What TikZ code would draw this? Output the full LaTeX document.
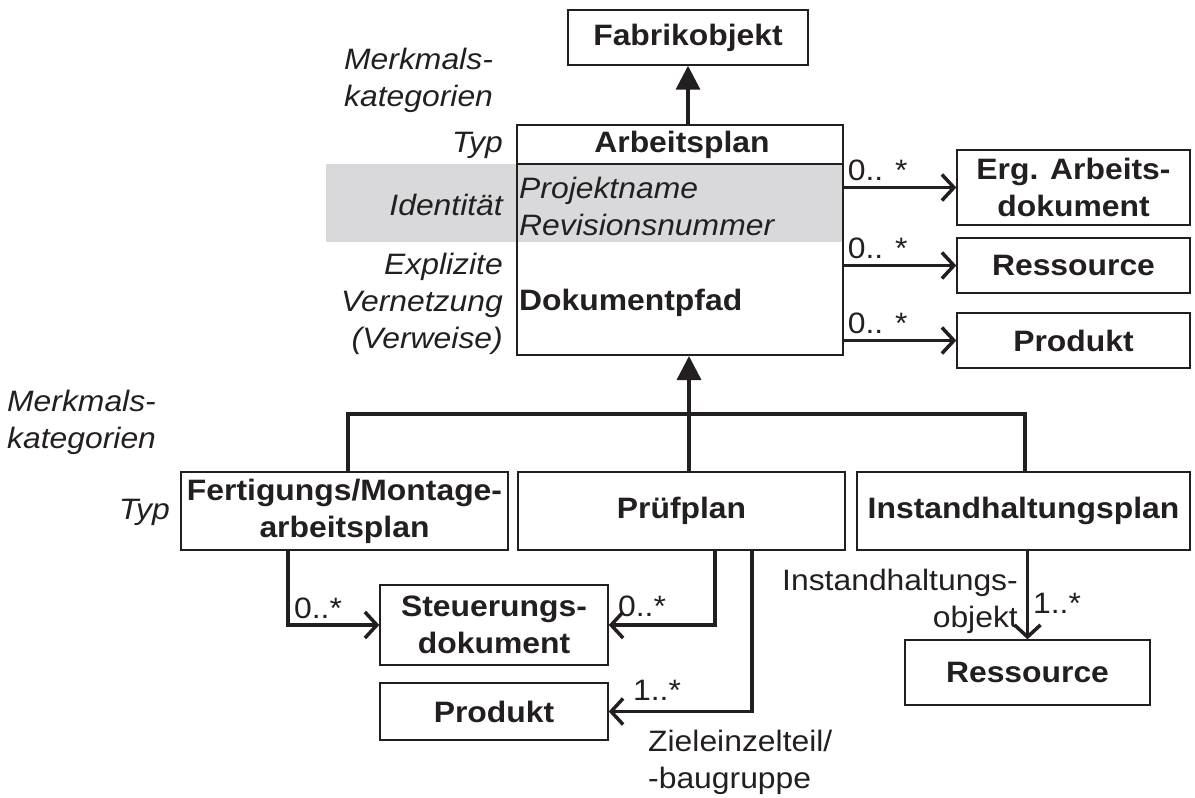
\documentclass[tikz,border=0pt]{standalone}
\usepackage{fontspec}
\setmainfont{Liberation Sans}[FakeStretch=1.08]
\usetikzlibrary{arrows.meta}
\definecolor{ink}{HTML}{231F20}
\definecolor{band}{HTML}{D9D9DB}
\begin{document}
\begin{tikzpicture}[x=1pt,y=-1pt,
  every node/.style={font=\fontsize{29.5}{37}\selectfont, text=ink, inner sep=0pt, align=center},
  box/.style={draw=ink, line width=2pt, fill=white},
  slim box/.style={draw=ink, line width=1.4pt, fill=white},
  cat/.style={font=\fontsize{29.5}{37}\selectfont\itshape},
  link/.style={draw=ink, line width=3.5pt},
  assoc/.style={link, -{Straight Barb[length=12pt,width=26pt]}},
  inherit/.style={link, -{Triangle[length=24pt,width=24pt]}},
]
\useasboundingbox (0,0) rectangle (1195,798);

% identity band behind the class box
\fill[band] (326,164) rectangle (843,242);

% base class
\node[slim box, minimum width=240pt, minimum height=55pt] (fabrik) at (688,37.5) {\bfseries Fabrikobjekt};

% Arbeitsplan class box with its compartments
\node[draw=ink, line width=2pt, minimum width=326pt, minimum height=230pt] (ap) at (680,240) {};
\draw[ink, line width=2pt] (ap.west |- 0,164) -- (ap.east |- 0,164);
\node (aptitle) at (682,145) {\bfseries Arbeitsplan};
\node[cat, anchor=west, align=left] (apid) at (519,206) {Projektname\\Revisionsnummer};
\node[anchor=west, align=left] at (519,303) (appath) {\bfseries Dokumentpfad};

% feature categories
\node[cat, anchor=west, align=left] (mk1) at (344,80) {Merkmals-\\kategorien};
\node[cat, anchor=east] (typ1) at (503,145) {Typ};
\node[cat, anchor=east] (ident) at (503,205) {Identität};
\node[cat, anchor=east, align=right] (vern) at (503,304) {Explizite\\Vernetzung\\(Verweise)};

% referenced classes
\node[slim box, minimum width=233pt, minimum height=75pt] (erg) at (1073.5,187.5) {\bfseries Erg. Arbeits-\\\bfseries dokument};
\node[slim box, minimum width=233pt, minimum height=55pt] (res1) at (1073.5,265.5) {\bfseries Ressource};
\node[slim box, minimum width=233pt, minimum height=55pt] (prod1) at (1073.5,340.5) {\bfseries Produkt};

\draw[assoc] (erg.west -| ap.east) -- node[above=5pt, pos=0.3] {0.. *} (erg.west);
\draw[assoc] (res1.west -| ap.east) -- node[above=5pt, pos=0.3] {0.. *} (res1.west);
\draw[assoc] (prod1.west -| ap.east) -- node[above=5pt, pos=0.3] {0.. *} (prod1.west);

\draw[inherit] (fabrik.south |- ap.north) -- (fabrik.south);

% specialisations
\node[cat, anchor=west, align=left] (mk2) at (7,422) {Merkmals-\\kategorien};
\node[cat, anchor=east] (typ2) at (170,512) {Typ};

\node[box, minimum width=327pt, minimum height=78pt] (fert) at (344.5,511) {\bfseries Fertigungs/Montage-\\\bfseries arbeitsplan};
\node[box, minimum width=327pt, minimum height=78pt] (pruef) at (681.5,511) {\bfseries Prüfplan};
\node[box, minimum width=333pt, minimum height=78pt] (inst) at (1023.5,511) {\bfseries Instandhaltungsplan};

\coordinate (junc) at (689,414);
\coordinate (jl) at (348,414);
\coordinate (jr) at (1025,414);
\draw[link] (jl |- fert.north) -- (jl) -- (jr) -- (jr |- inst.north);
\draw[link] (junc |- pruef.north) -- (junc);
\draw[inherit] (junc) -- (junc |- ap.south);

% associations of the specialisations
\node[slim box, minimum width=228pt, minimum height=80pt] (steu) at (494,625) {\bfseries Steuerungs-\\\bfseries dokument};
\node[slim box, minimum width=228pt, minimum height=57pt] (prod2) at (494,711.5) {\bfseries Produkt};
\node[slim box, minimum width=245pt, minimum height=65pt] (res2) at (1027.5,672.5) {\bfseries Ressource};

\draw[assoc] ([xshift=-56.5pt]fert.south) |- (steu.west);
\draw[assoc] ([xshift=33.5pt]pruef.south) |- (steu.east);
\draw[assoc] ([xshift=70.5pt]pruef.south) |- (prod2.east);
\draw[assoc] (inst.south -| res2.north) -- (res2.north);

\node (m1) at (318,608) {0..*};
\node (m2) at (642,606) {0..*};
\node (m3) at (657,690) {1..*};
\node (m4) at (1057,603) {1..*};
\node[anchor=west, align=left] (ziel) at (648,762) {Zieleinzelteil/\\-baugruppe};
\node[anchor=east, align=right] (iobj) at (1018,601) {Instandhaltungs-\\objekt};
\end{tikzpicture}
\end{document}
